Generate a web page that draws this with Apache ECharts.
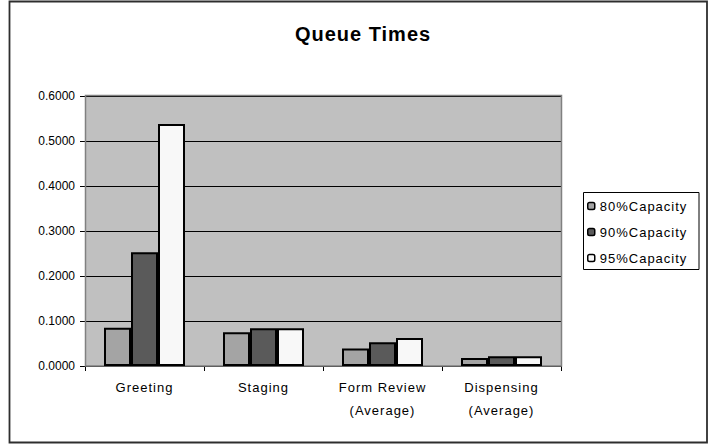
<!DOCTYPE html>
<html>
<head>
<meta charset="utf-8">
<script src="https://cdn.jsdelivr.net/npm/echarts@6/dist/echarts.min.js"></script>
<style>
  html, body { margin: 0; padding: 0; background: #fff; }
  #chart { width: 713px; height: 444px; }
  /* loose Excel-style tracking for titles, categories and legend */
  #chart text { letter-spacing: 1px; }
  #chart text[text-anchor="end"] { letter-spacing: 0; }
</style>
</head>
<body>
<div id="chart"></div>
<script>
// Queue times per process step at three capacity levels
const categories = ['Greeting', 'Staging', 'Form Review\n(Average)', 'Dispensing\n(Average)'];
const seriesNames = ['80%Capacity', '90%Capacity', '95%Capacity'];
const cap80 = [0.085, 0.075, 0.039, 0.018];
const cap90 = [0.253, 0.084, 0.053, 0.0215];
const cap95 = [0.538, 0.084, 0.062, 0.0215];
const yTicks = { min: 0, max: 0.6, interval: 0.1 };

const barColors = ['#a4a4a4', '#5a5a5a', '#f8f8f8'];
const seriesValues = [cap80, cap90, cap95];

const FONT = '"Liberation Sans", Arial, sans-serif';

const chart = echarts.init(document.getElementById('chart'), null, { renderer: 'svg' });

chart.setOption({
  animation: false,
  backgroundColor: '#ffffff',
  title: {
    text: 'Queue Times',
    left: 358,
    textAlign: 'center',
    top: 19,
    textStyle: { fontFamily: FONT, fontSize: 20, fontWeight: 'bold', color: '#000' }
  },
  graphic: [
    {
      // outer chart frame
      type: 'rect',
      shape: { x: 9.5, y: 1.5, width: 697.5, height: 441 },
      style: { fill: 'none', stroke: '#2e2e2e', lineWidth: 1.8 },
      silent: true,
      z: 0
    },
    {
      // legend box
      type: 'rect',
      shape: { x: 583.5, y: 192.5, width: 115.5, height: 77 },
      style: { fill: '#fff', stroke: '#000', lineWidth: 1 },
      silent: true,
      z: 1
    },
    {
      // plot area border (top and right edges in gray)
      type: 'rect',
      shape: { x: 85.5, y: 95.5, width: 476, height: 270.5 },
      style: { fill: 'none', stroke: '#808080', lineWidth: 1.5 },
      silent: true,
      z: 1
    }
  ],
  legend: {
    orient: 'vertical',
    left: 587,
    top: 199,
    itemWidth: 7,
    itemHeight: 7,
    itemGap: 12,
    padding: 0,
    z: 5,
    data: seriesNames.map(n => ({ name: n, itemStyle: { borderColor: '#000', borderWidth: 1.5 } })),
    textStyle: { fontFamily: FONT, fontSize: 13, color: '#000', lineHeight: 14 }
  },
  grid: {
    left: 85,
    right: 152,
    top: 96,
    bottom: 78,
    show: true,
    backgroundColor: '#c0c0c0',
    borderWidth: 0
  },
  xAxis: {
    type: 'category',
    data: categories,
    axisLine: { lineStyle: { color: '#000', width: 1 } },
    axisTick: { show: true, length: 5, lineStyle: { color: '#000' } },
    axisLabel: {
      margin: 10,
      fontFamily: FONT,
      fontSize: 13,
      lineHeight: 23,
      color: '#000'
    }
  },
  yAxis: {
    type: 'value',
    min: yTicks.min,
    max: yTicks.max,
    interval: yTicks.interval,
    axisLine: { show: true, lineStyle: { color: '#000', width: 1 } },
    axisTick: { show: true, length: 5, lineStyle: { color: '#000' } },
    splitLine: { show: true, lineStyle: { color: '#000', width: 1 } },
    axisLabel: {
      margin: 10,
      fontFamily: FONT,
      fontSize: 12,
      color: '#000',
      formatter: v => v.toFixed(4)
    }
  },
  series: seriesNames.map((name, i) => ({
    name: name,
    type: 'bar',
    data: seriesValues[i],
    barWidth: 27,
    barGap: '0%',
    itemStyle: { color: barColors[i], borderColor: '#000', borderWidth: 2 },
    z: 3
  }))
});
</script>
</body>
</html>
